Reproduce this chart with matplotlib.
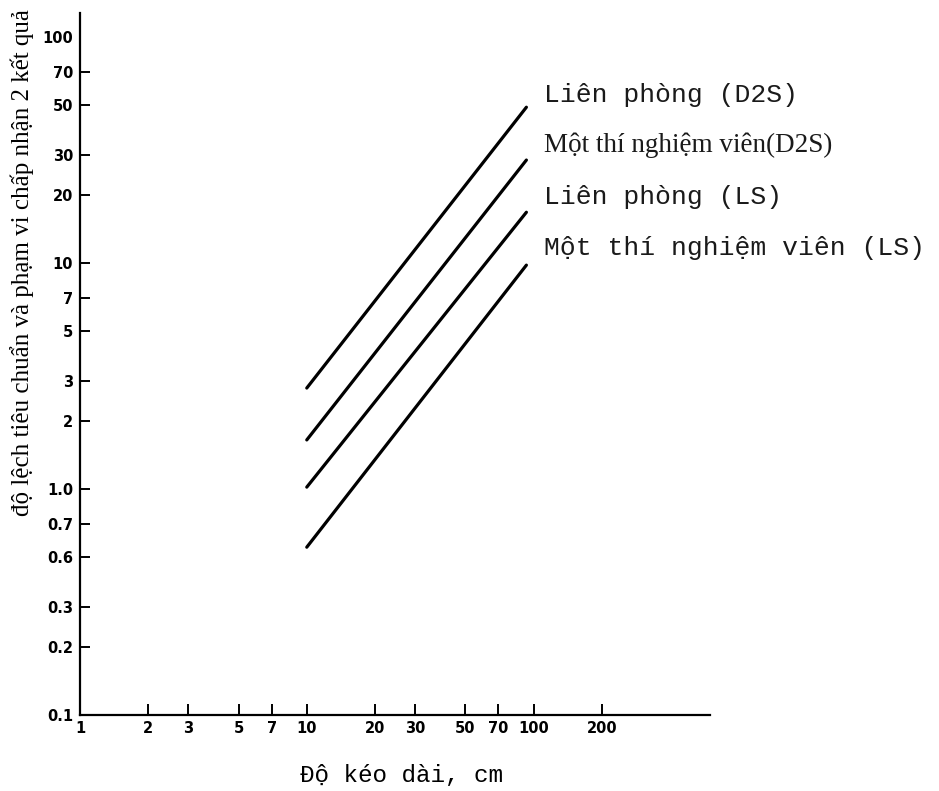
import numpy as np
import matplotlib.pyplot as plt

# lengths (cm) where the lines start and stop
x_ends = [10, 93]

# line values at both ends
series_names = ['Liên phòng (D2S)', 'Một thí nghiệm viên(D2S)', 'Liên phòng (LS)', 'Một thí nghiệm viên (LS)']
start_vals = [2.8, 1.65, 1.02, 0.553]
end_vals = [49, 28.6, 16.8, 9.8]

x_ticks = [1, 2, 3, 5, 7, 10, 20, 30, 50, 70, 100, 200]
x_ticklabels = ['1', '2', '3', '5', '7', '10', '20', '30', '50', '70', '100', '200']
y_ticks = [0.1, 0.2, 0.3, 0.5, 0.7, 1, 2, 3, 5, 7, 10, 20, 30, 50, 70, 100]
y_ticklabels = ['0.1', '0.2', '0.3', '0.6', '0.7', '1.0', '2', '3', '5', '7', '10', '20', '30', '50', '70', '100']

fig = plt.figure(figsize=(9.39, 7.91), dpi=100)
ax = fig.add_axes([80 / 939, 76 / 791, 630 / 939, 702 / 791])
ax.set_xscale('log')
ax.set_yscale('log')
ax.set_xlim(1, 600)
ax.set_ylim(0.1, 128)

# serif label font only for the second series, like the original scan
label_fonts = ['Liberation Mono', 'Liberation Serif', 'Liberation Mono', 'Liberation Mono']
label_sizes = [19, 19.5, 19, 19]
label_dy = [12, 15, 15, 17]

for name, y0, y1, fam, fs, dy in zip(series_names, start_vals, end_vals, label_fonts, label_sizes, label_dy):
    ax.plot(x_ends, [y0, y1], color='black', lw=2.3, solid_capstyle='round')
    ax.annotate(name, xy=(x_ends[1], y1), xytext=(18, dy), textcoords='offset pixels',
                ha='left', va='center', fontsize=fs, family=fam, color='#1a1a1a',
                annotation_clip=False)

for side in ['top', 'right']:
    ax.spines[side].set_visible(False)
for side in ['left', 'bottom']:
    ax.spines[side].set_linewidth(1.6)

ax.minorticks_off()
ax.set_xticks(x_ticks)
ax.set_xticklabels(x_ticklabels)
ax.set_yticks(y_ticks)
ax.set_yticklabels(y_ticklabels)
ax.tick_params(axis='x', direction='in', length=8, width=1.4, pad=4)
ax.tick_params(axis='y', direction='in', length=7, width=1.4, pad=5)
for lab in ax.get_xticklabels() + ax.get_yticklabels():
    lab.set_fontweight('bold')
    lab.set_fontsize(10.5)
# no tick mark at 100 on the y axis in the original
ax.yaxis.get_major_ticks()[-1].tick1line.set_visible(False)

fig.text(22 / 939, 1 - 263 / 791, 'độ lệch tiêu chuẩn và phạm vi chấp nhận 2 kết quả',
         rotation=90, ha='center', va='center', fontsize=18, family='Liberation Serif')
fig.text(402 / 939, 1 - 775 / 791, 'Độ kéo dài, cm', ha='center', va='center',
         fontsize=17.5, family='Liberation Mono')

plt.savefig('out.png', dpi=100)
